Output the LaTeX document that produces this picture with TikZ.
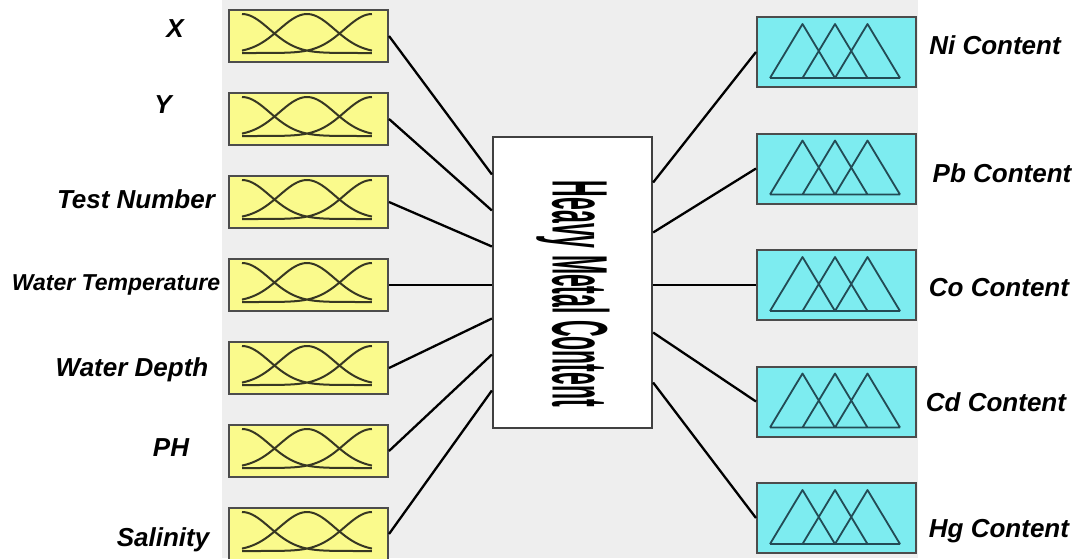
\documentclass[tikz,border=0pt]{standalone}
\usepackage{fontspec}
\setmainfont{Liberation Sans}
\usepackage{graphicx}
\usepackage{tikz}
\usetikzlibrary{positioning,fit,calc}
\definecolor{mfyellow}{RGB}{250,250,140}
\definecolor{mfcyan}{RGB}{125,236,240}
\definecolor{bggray}{RGB}{238,238,238}
\definecolor{curvecol}{RGB}{55,55,35}
\definecolor{tricol}{RGB}{35,75,85}

\begin{document}
\begin{tikzpicture}[x=1pt, y=-1pt, link/.style = {line width=2.3pt}]
				\tikzset{inbox/.style={draw=black!70, line width=2pt, inner sep=0pt, fill=mfyellow}}
				\tikzset{outbox/.style={draw=black!70, line width=2pt, inner sep=0pt, fill=mfcyan}}
				\tikzset{intext/.style={inner sep=0pt, text height=19pt, text depth=0pt, font=\fontsize{26}{30}\selectfont\bfseries\itshape}}

				\useasboundingbox (0,0) rectangle (1079,558);
				\fill[bggray] (222,0) rectangle (918,558);

				\node[fit={(229,10) (388,62)}, inbox] (xin) {};
				\node[fit={(229,93) (388,145)}, inbox] (yin) {};
				\node[fit={(229,176) (388,228)}, inbox] (test) {};
				\node[fit={(229,259) (388,311)}, inbox] (temp) {};
				\node[fit={(229,342) (388,394)}, inbox] (depth) {};
				\node[fit={(229,425) (388,477)}, inbox] (ph) {};
				\node[fit={(229,508) (388,560)}, inbox] (sal) {};

				\node[fit={(757,17) (916,87)}, outbox] (ni) {};
				\node[fit={(757,133.5) (916,203.5)}, outbox] (pb) {};
				\node[fit={(757,250) (916,320)}, outbox] (co) {};
				\node[fit={(757,366.5) (916,436.5)}, outbox] (cd) {};
				\node[fit={(757,483) (916,553)}, outbox] (hg) {};

				\foreach \n in {xin,yin,test,temp,depth,ph,sal}
					\draw[curvecol, line width=2pt, shift={(\n.north west)}]
						plot[domain=0:1, samples=50] ({14+130*\x}, {44-39*exp(((\x)^2)/(-0.0901))})
						plot[domain=0:1, samples=50] ({14+130*\x}, {44-39*exp(((\x-0.5)^2)/(-0.0901))})
						plot[domain=0:1, samples=50] ({14+130*\x}, {44-39*exp(((\x-1)^2)/(-0.0901))});
				\foreach \n in {ni,pb,co,cd,hg}
					\draw[tricol, line width=1.8pt, line join=round, shift={(\n.north west)}]
						(14,62) -- (46.5,8) -- (79,62) (46.5,62) -- (79,8) -- (111.5,62)
						(79,62) -- (111.5,8) -- (144,62) (14,62) -- (144,62);

				\node[fit={(493,137) (652,428)}, inner sep=0pt, draw=black!75, line width=2.2pt, fill=white] (hmc) {};
				\node[rotate=-90, inner sep=0pt] (hmctext) at (573,294) {\resizebox{226pt}{57pt}{\bfseries Heavy Metal Content}};

				\node[intext] (xlab) at (175,28) {X};
				\node[intext] (ylab) at (163,104) {Y};
				\node[intext] (testlab) at (136,199) {Test Number};
				\node[intext, text height=16.5pt, font=\fontsize{23}{28}\selectfont\bfseries\itshape] (templab) at (116,282) {Water Temperature};
				\node[intext] (depthlab) at (132,367) {Water Depth};
				\node[intext] (phlab) at (171,447) {PH};
				\node[intext] (sallab) at (163,537) {Salinity};

				\node[intext] (nilab) at (995,45) {Ni Content};
				\node[intext] (pblab) at (1002,173) {Pb Content};
				\node[intext] (colab) at (999,287) {Co Content};
				\node[intext] (cdlab) at (996,402) {Cd Content};
				\node[intext] (hglab) at (999,528) {Hg Content};

				\draw [link] (xin.east) -- ([yshift=108pt]hmc.west);
				\draw [link] (yin.east) -- ([yshift=72pt]hmc.west);
				\draw [link] (test.east) -- ([yshift=36pt]hmc.west);
				\draw [link] (temp.east) -- (temp.east -| hmc.west);
				\draw [link] (depth.east) -- ([yshift=-36pt]hmc.west);
				\draw [link] (ph.east) -- ([yshift=-72pt]hmc.west);
				\draw [link] (sal.east) -- ([yshift=-108pt]hmc.west);

				\draw [link] ([yshift=100pt]hmc.east) -- (ni.west);
				\draw [link] ([yshift=50pt]hmc.east) -- (pb.west);
				\draw [link] (hmc.east |- co.west) -- (co.west);
				\draw [link] ([yshift=-50pt]hmc.east) -- (cd.west);
				\draw [link] ([yshift=-100pt]hmc.east) -- (hg.west);

			\end{tikzpicture}
\end{document}
